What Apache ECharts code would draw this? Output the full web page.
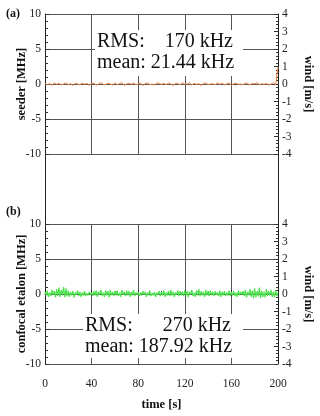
<!DOCTYPE html>
<html>
<head>
<meta charset="utf-8">
<script src="https://cdn.jsdelivr.net/npm/echarts@6/dist/echarts.min.js"></script>
<style>html,body{margin:0;padding:0;background:#fff}#c{width:320px;height:416px}</style>
</head>
<body>
<div id="c"></div>
<script>
// sampling times (s)
const timeA = Array.from({length: 101}, (_, i) => i * 2);
const timeB = Array.from({length: 201}, (_, i) => i);
// seeder frequency deviation [MHz]
const seederMHz = [0.1,-0.1,0.05,-0.2,0.15,-0.05,0.1,-0.15,0.0,0.2,-0.1,0.05,-0.2,0.1,0.0,-0.1,0.15,-0.05,0.1,-0.2,
 0.05,0.1,-0.15,0.0,0.2,-0.05,-0.1,0.1,0.0,-0.15,0.15,-0.1,0.05,0.2,-0.2,0.0,0.1,-0.05,0.15,-0.1,
 0.0,0.1,-0.2,0.05,0.15,-0.1,0.0,-0.15,0.2,0.05,-0.05,0.1,-0.1,0.15,0.0,-0.2,0.1,0.05,-0.1,0.2,
 -0.05,0.0,0.15,-0.15,0.1,-0.05,0.05,-0.2,0.1,0.15,-0.1,0.0,0.05,-0.15,0.2,-0.05,0.1,-0.1,0.0,0.15,
 -0.2,0.05,0.1,-0.05,0.0,-0.1,0.15,0.05,-0.15,0.1,0.0,0.2,-0.1,0.05,-0.05,0.1,-0.15,0.0,0.15,-0.1,2.4];
// confocal etalon frequency deviation [MHz]
const etalonMHz = [0.3,-0.2,0.5,-0.4,0.2,-0.3,0.6,-0.1,0.4,-0.5,0.7,-0.3,0.9,-0.4,0.6,-0.2,1.0,-0.5,0.8,-0.3,
 0.5,-0.4,0.3,-0.2,0.4,-0.5,0.2,-0.1,0.5,-0.3,0.3,-0.4,0.2,-0.2,0.4,-0.3,0.1,-0.2,0.3,-0.1,
 0.2,-0.3,0.4,-0.2,0.5,-0.4,0.3,-0.1,0.6,-0.3,0.2,-0.4,0.5,-0.2,0.4,-0.5,0.6,-0.2,0.3,-0.3,
 0.4,-0.2,0.5,-0.3,0.2,-0.4,0.6,-0.1,0.3,-0.3,0.5,-0.2,0.4,-0.4,0.3,-0.2,0.6,-0.3,0.2,-0.1,
 0.3,-0.3,0.2,-0.2,0.4,-0.1,0.3,-0.4,0.2,-0.2,0.5,-0.3,0.1,-0.2,0.3,-0.4,0.2,-0.1,0.4,-0.3,
 0.3,-0.2,0.5,-0.4,0.2,-0.2,0.4,-0.3,0.6,-0.2,0.3,-0.4,0.2,-0.1,0.5,-0.3,0.4,-0.2,0.3,-0.3,
 0.5,-0.2,0.4,-0.5,0.3,-0.1,0.6,-0.3,0.2,-0.4,0.5,-0.2,0.7,-0.3,0.4,-0.2,0.3,-0.4,0.6,-0.2,
 0.4,-0.3,0.5,-0.2,0.3,-0.3,0.4,-0.1,0.2,-0.3,0.5,-0.4,0.3,-0.2,0.4,-0.3,0.2,-0.2,0.5,-0.3,
 0.3,-0.2,0.4,-0.3,0.2,-0.4,0.5,-0.2,0.3,-0.1,0.4,-0.3,0.6,-0.5,0.3,-0.2,0.7,-0.4,0.5,-0.6,
 0.8,-0.5,0.4,-0.3,0.9,-0.6,0.5,-0.4,0.3,-0.5,0.7,-0.3,0.4,-0.2,0.6,-0.4,0.3,-0.5,0.6,-0.3,0.2];
const statsA = {rms: '170 kHz', mean: 'mean: 21.44 kHz'};
const statsB = {rms: '270 kHz', mean: 'mean: 187.92 kHz'};

const FONT = 'Liberation Serif';
const chart = echarts.init(document.getElementById('c'), null, {renderer: 'canvas'});
const lbl = {fontFamily: FONT, fontSize: 11.5, color: '#222'};
const nameStyle = {fontFamily: FONT, fontSize: 12.5, fontWeight: 'bold', color: '#111'};
const gridLine = {show: true, lineStyle: {color: '#555', width: 1}};

function xAx(gi, bottom) {
  return {
    type: 'value', gridIndex: gi, min: 0, max: 200, interval: 40,
    axisLine: {show: bottom, lineStyle: {color: '#222'}},
    axisTick: {show: bottom, inside: true, length: 4, lineStyle: {color: '#222'}},
    minorTick: {show: bottom, splitNumber: 2, length: 3, lineStyle: {color: '#222'}},
    axisLabel: Object.assign({show: bottom, margin: 14}, lbl),
    splitLine: gridLine,
    name: bottom ? 'time [s]' : '', nameLocation: 'middle', nameGap: 34,
    nameMoveOverlap: false,
    nameTextStyle: nameStyle
  };
}
function yLeft(gi, name) {
  return {
    type: 'value', gridIndex: gi, min: -10, max: 10, interval: 5, position: 'left',
    axisLine: {show: false},
    axisTick: {show: true, inside: true, length: 4, lineStyle: {color: '#333'}},
    minorTick: {show: true, splitNumber: 5, length: 3, lineStyle: {color: '#333'}},
    axisLabel: Object.assign({margin: 4}, lbl),
    splitLine: gridLine,
    name: name, nameLocation: 'middle', nameGap: 17, nameRotate: 90,
    nameMoveOverlap: false,
    nameTextStyle: nameStyle
  };
}
function yRight(gi) {
  return {
    type: 'value', gridIndex: gi, min: -4, max: 4, interval: 1, position: 'right',
    axisLine: {show: false},
    axisTick: {show: true, inside: true, length: 4, lineStyle: {color: '#333'}},
    minorTick: {show: true, splitNumber: 5, length: 2, lineStyle: {color: '#333'}},
    axisLabel: Object.assign({margin: 4}, lbl),
    splitLine: {show: false},
    name: 'wind [m/s]', nameLocation: 'middle', nameGap: 24, nameRotate: -90,
    nameMoveOverlap: false,
    nameTextStyle: nameStyle
  };
}

function statBox(x0, y0, w, h, tx, rx, y1, y2, st) {
  const ts = {fontFamily: FONT, fontSize: 20, fill: '#111', textVerticalAlign: 'middle'};
  return [
    {type: 'rect', shape: {x: x0, y: y0, width: w, height: h}, style: {fill: '#fff'}, z: 50},
    {type: 'text', x: tx, y: y1, style: Object.assign({text: 'RMS:', textAlign: 'left'}, ts), z: 51},
    {type: 'text', x: rx, y: y1, style: Object.assign({text: st.rms, textAlign: 'right'}, ts), z: 51},
    {type: 'text', x: tx, y: y2, style: Object.assign({text: st.mean, textAlign: 'left'}, ts), z: 51}
  ];
}

const gridBase = {left: 45, width: 233, containLabel: false, outerBoundsMode: 'none'};
const option = {
  backgroundColor: '#fff',
  animation: false,
  grid: [
    Object.assign({top: 14, height: 140}, gridBase),
    Object.assign({top: 224, height: 140}, gridBase),
    Object.assign({top: 14, height: 350}, gridBase)
  ],
  xAxis: [xAx(0, false), xAx(1, true), {type: 'value', gridIndex: 2, show: false, min: 0, max: 1}],
  yAxis: [
    yLeft(0, 'seeder [MHz]'), yRight(0),
    yLeft(1, 'confocal etalon [MHz]'), yRight(1),
    {type: 'value', gridIndex: 2, position: 'left', min: 0, max: 1, axisLine: {show: true, lineStyle: {color: '#222'}}, axisTick: {show: false}, axisLabel: {show: false}, splitLine: {show: false}},
    {type: 'value', gridIndex: 2, position: 'right', min: 0, max: 1, axisLine: {show: true, lineStyle: {color: '#222'}}, axisTick: {show: false}, axisLabel: {show: false}, splitLine: {show: false}}
  ],
  series: [
    {type: 'line', xAxisIndex: 0, yAxisIndex: 0, showSymbol: false, data: timeA.map((t, i) => [t, seederMHz[i]]), lineStyle: {color: '#e8803a', width: 1}, z: 5},
    {type: 'line', xAxisIndex: 1, yAxisIndex: 2, showSymbol: false, data: timeB.map((t, i) => [t, etalonMHz[i]]), lineStyle: {color: '#4fe04f', width: 1.2}, z: 5}
  ],
  graphic: [
    {type: 'text', left: 6, top: 8, style: {text: '(a)', fontFamily: FONT, fontSize: 12, fontWeight: 'bold', fill: '#111'}},
    {type: 'text', left: 6, top: 206, style: {text: '(b)', fontFamily: FONT, fontSize: 12, fontWeight: 'bold', fill: '#111'}}
  ].concat(statBox(95, 30, 148, 46, 97, 233, 42, 63, statsA))
   .concat(statBox(83, 314, 160, 44, 85, 231, 326, 347, statsB))
};
chart.setOption(option);
</script>
</body>
</html>
